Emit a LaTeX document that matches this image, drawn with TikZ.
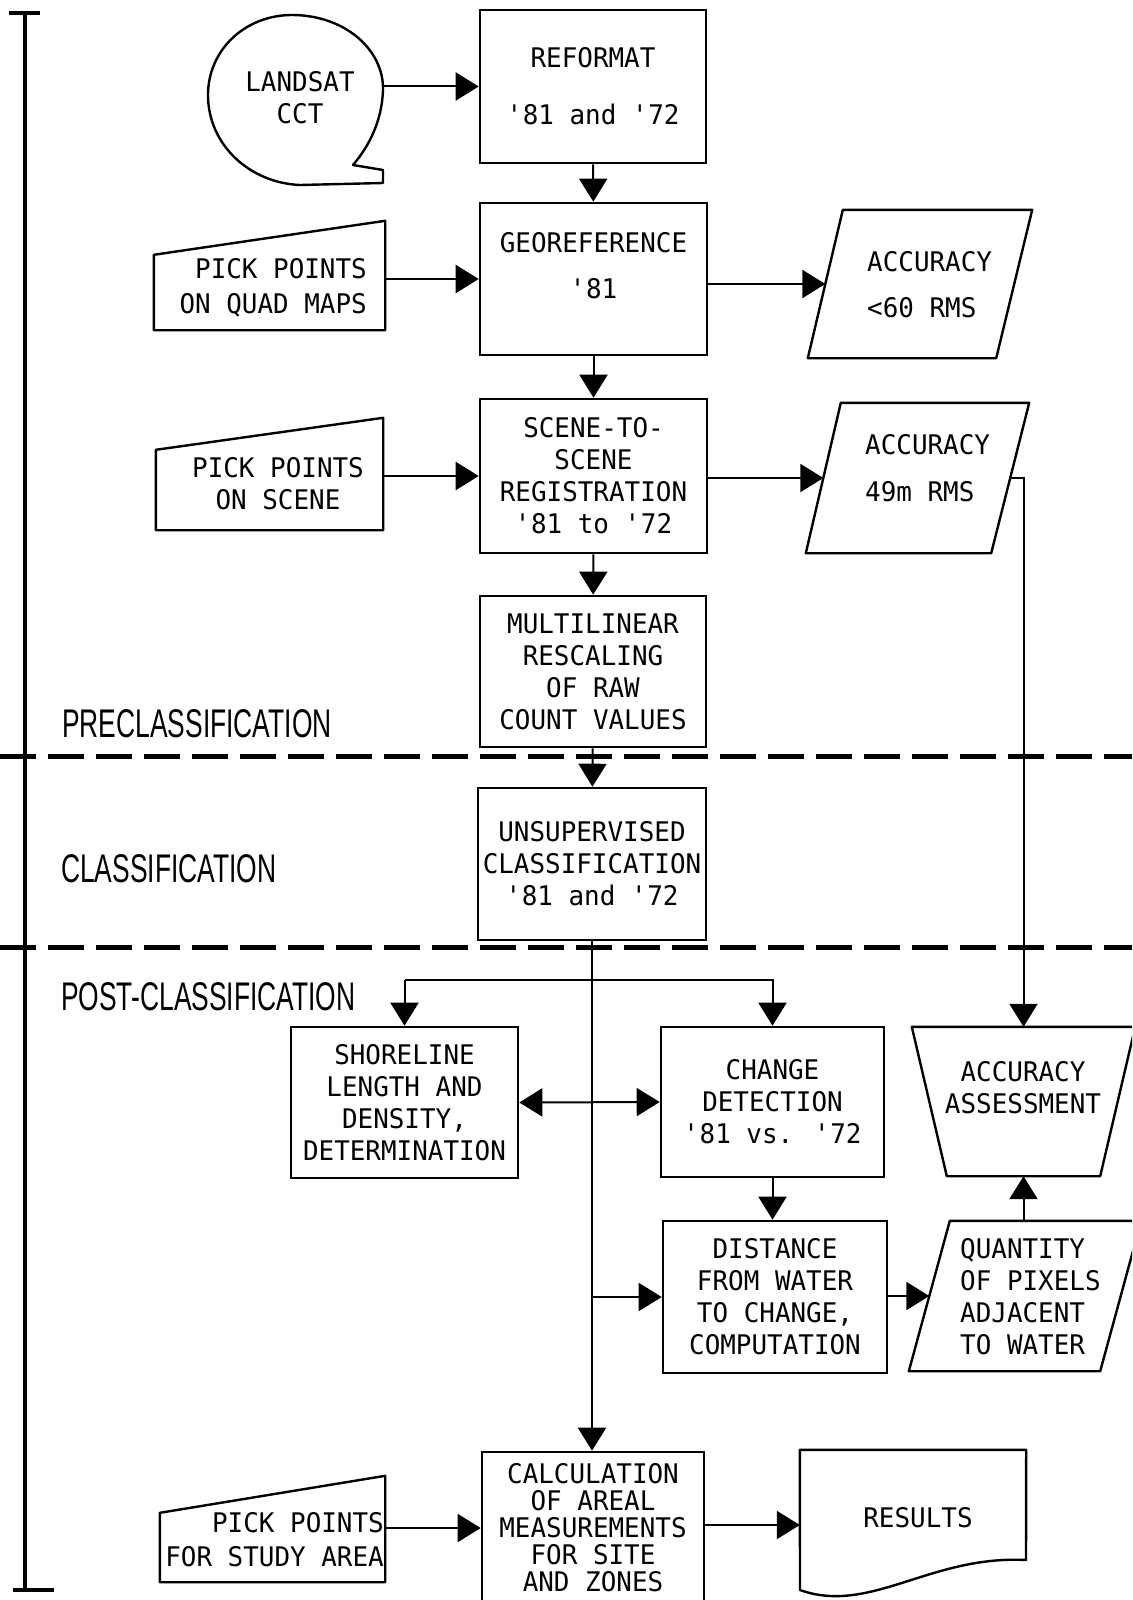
\documentclass[tikz,border=0pt]{standalone}
\usepackage{fontspec}
\usetikzlibrary{arrows.meta,calc}
\newfontfamily\boxfamily[FakeStretch=0.96]{DejaVu Sans Mono}
\newfontfamily\zonefamily[FakeStretch=0.66]{Liberation Sans}
\newcommand{\boxtype}{\boxfamily\fontsize{27pt}{32pt}\selectfont}
\newcommand{\zonetype}{\zonefamily\fontsize{40pt}{44pt}\selectfont}
\newcommand{\apos}{\textquotesingle}

\begin{document}
\begin{tikzpicture}[x=1pt,y=-1pt,
    box/.style={draw,line width=2.6pt,inner sep=0pt,font=\boxtype,align=center},
    frame/.style={inner sep=0pt},
    txt/.style={inner sep=0pt,font=\boxtype},
    outline/.style={line width=2.4pt,line join=round},
    zone/.style={inner sep=0pt,font=\zonetype,anchor=base west},
    flow/.style={line width=2pt,-{Triangle[length=23pt,width=28pt]}},
    bothflow/.style={line width=2pt,{Triangle[length=23pt,width=28pt]}-{Triangle[length=23pt,width=28pt]}},
    divider/.style={line width=5pt,dash pattern=on 36pt off 12pt}]
\useasboundingbox (0,0) rectangle (1132,1600);
\clip (0,0) rectangle (1132,1600);

\begin{scope}[line width=4pt]
    \draw (25,13) -- (25,1590);
    \draw (9,13) -- (40,13);
    \draw (13,1590) -- (54,1590);
\end{scope}
\draw[divider] (0,756) -- (1132,756);
\draw[divider] (0,947) -- (1132,947);
\node[zone] (pre) at (62,737) {PRECLASSIFICATION};
\node[zone] (cls) at (61,882) {CLASSIFICATION};
\node[zone] (post) at (61,1010) {POST-CLASSIFICATION};

\node[box,minimum width=226,minimum height=153] (reformat) at (593,86.5) {REFORMAT\\[25pt]\apos81 and \apos72};
\node[box,minimum width=227,minimum height=152,text depth=28pt] (georef) at (593.5,279) {GEOREFERENCE\\[14pt]\apos81};
\node[box,minimum width=227,minimum height=154] (scene) at (593.5,476) {SCENE-TO-\\SCENE\\REGISTRATION\\\apos81 to \apos72};
\node[box,minimum width=226,minimum height=151] (multi) at (593,671.5) {MULTILINEAR\\RESCALING\\OF RAW\\COUNT VALUES};
\node[box,minimum width=228,minimum height=152] (unsup) at (592,864) {UNSUPERVISED\\CLASSIFICATION\\\apos81 and \apos72};
\node[box,minimum width=227,minimum height=151] (shore) at (404.5,1102.5) {SHORELINE\\LENGTH AND\\DENSITY,\\DETERMINATION};
\node[box,minimum width=223,minimum height=150] (change) at (772.5,1102) {CHANGE\\DETECTION\\\apos81 vs. \apos72};
\node[box,minimum width=224,minimum height=152] (distance) at (775,1297) {DISTANCE\\FROM WATER\\TO CHANGE,\\COMPUTATION};
\node[box,minimum width=222,minimum height=152] (calc) at (593,1528) {CALCULATION\\[-5pt]OF AREAL\\[-5pt]MEASUREMENTS\\[-5pt]FOR SITE\\[-5pt]AND ZONES};

\node[frame,minimum width=175,minimum height=170] (landsat) at (295.5,100) {};
\draw[outline] (383,183) -- (300,185) .. controls (250,183) and (208,145) .. (208,95)
    .. controls (208,50) and (245,15) .. (292,15) .. controls (345,15) and (384,50) .. (383,90)
    .. controls (382,120) and (370,145) .. (353,165) -- (383,170) -- cycle;
\node[txt,align=center] (landsat-t) at (300,97.5) {LANDSAT\\CCT};

\node[frame,minimum width=231,minimum height=109] (quad) at (269.5,275.5) {};
\draw[outline] (quad.south west) -- (quad.south east) -- (quad.north east) -- ([yshift=-34pt]quad.north west) -- cycle;
\node[txt,align=right,anchor=east] (quad-t) at (367,287.5) {PICK POINTS\\[3pt]ON QUAD MAPS};

\node[frame,minimum width=227,minimum height=112] (pickscene) at (269.5,474) {};
\draw[outline] (pickscene.south west) -- (pickscene.south east) -- (pickscene.north east) -- ([yshift=-32pt]pickscene.north west) -- cycle;
\node[txt,align=center] (pickscene-t) at (278,483.5) {PICK POINTS\\ON SCENE};

\node[frame,minimum width=225,minimum height=106] (pickstudy) at (272.5,1529) {};
\draw[outline] (pickstudy.south west) -- (pickstudy.south east) -- (pickstudy.north east) -- ([yshift=-37pt]pickstudy.north west) -- cycle;
\node[txt,align=right,anchor=east] (pickstudy-t) at (384,1540) {PICK POINTS\\[2pt]FOR STUDY AREA};

\node[frame,minimum width=224,minimum height=148] (acc1) at (920,284) {};
\draw[outline] ([xshift=35pt]acc1.north west) -- (acc1.north east) -- ([xshift=-36pt]acc1.south east) -- (acc1.south west) -- cycle;
\node[txt,align=left,anchor=west] (acc1-t) at (867,285) {ACCURACY\\[14pt]<60 RMS};
\coordinate (acc1-in) at ($(acc1.south west)!0.5!([xshift=35pt]acc1.north west)$);

\node[frame,minimum width=223,minimum height=150] (acc2) at (917.5,478) {};
\draw[outline] ([xshift=35pt]acc2.north west) -- (acc2.north east) -- ([xshift=-38pt]acc2.south east) -- (acc2.south west) -- cycle;
\node[txt,align=left,anchor=west] (acc2-t) at (865,468.5) {ACCURACY\\[15pt]49m RMS};
\coordinate (acc2-in) at ($(acc2.south west)!0.5!([xshift=35pt]acc2.north west)$);
\coordinate (acc2-out) at ($(acc2.north east)!0.5!([xshift=-38pt]acc2.south east)$);

\node[frame,minimum width=223,minimum height=149] (assess) at (1023.5,1101.5) {};
\draw[outline] (assess.north west) -- (assess.north east) -- ([xshift=-35pt]assess.south east) -- ([xshift=35pt]assess.south west) -- cycle;
\node[txt,align=center] (assess-t) at (1023,1087.5) {ACCURACY\\ASSESSMENT};

\node[frame,minimum width=232,minimum height=150] (quantity) at (1025,1296) {};
\draw[outline] ([xshift=41pt]quantity.north west) -- (quantity.north east) -- ([xshift=-41pt]quantity.south east) -- (quantity.south west) -- cycle;
\node[txt,align=left,anchor=west] (quantity-t) at (960,1296.5) {QUANTITY\\OF PIXELS\\ADJACENT\\TO WATER};
\coordinate (qty-in) at ($(quantity.south west)!0.5!([xshift=41pt]quantity.north west)$);

\node[frame,minimum width=226,minimum height=150] (results) at (913,1525) {};
\draw[outline] (results.north west) -- (results.north east) -- (1026,1560)
    .. controls (930,1555) and (870,1615) .. (800,1590) -- cycle;
\node[txt] (results-t) at (918,1518) {RESULTS};

\begin{scope}[flow]
    \draw (landsat.east |- reformat) -- (reformat.west);
    \draw (reformat) -- (georef);
    \draw (quad.east |- georef) -- (georef.west);
    \draw (georef.east |- acc1-in) -- (acc1-in);
    \draw (georef) -- (scene);
    \draw (pickscene.east |- scene) -- (scene.west);
    \draw (scene.east |- acc2-in) -- (acc2-in);
    \draw (scene) -- (multi);
    \draw (multi) -- (unsup);
    \draw (acc2-out) -| (assess.north);
    \draw (unsup.south) -- (unsup.south |- calc.north);
    \coordinate (split) at ($(unsup.south)+(0,39)$);
    \draw (split -| shore.north) -- (split -| change.north) -- (change.north);
    \draw (split -| shore.north) -- (shore.north);
    \draw (change.south) -- (change.south |- distance.north);
    \draw (unsup.south |- distance) -- (distance.west);
    \draw (distance.east |- qty-in) -- (qty-in);
    \draw (quantity.north -| assess.south) -- (assess.south);
    \draw (pickstudy.east |- calc) -- (calc.west);
    \draw (calc.east |- results) -- (results.west);
\end{scope}
\draw[bothflow] (shore.east) -- (change.west);
\end{tikzpicture}
\end{document}
